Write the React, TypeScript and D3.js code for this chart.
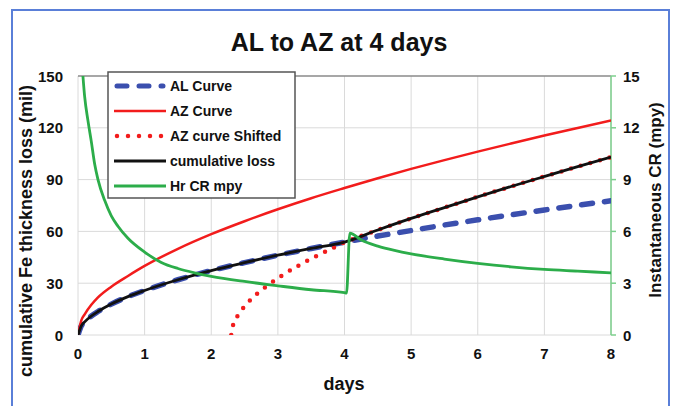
import React from 'react';
import * as d3 from 'd3';

const TITLE = 'AL to AZ at 4 days';
const X_LABEL = 'days';
const Y_LEFT_LABEL = 'cumulative Fe thickness loss (mil)';
const Y_RIGHT_LABEL = 'Instantaneous CR (mpy)';

const X_TICKS = [0, 1, 2, 3, 4, 5, 6, 7, 8];
const LEFT_TICKS = [0, 30, 60, 90, 120, 150];
const RIGHT_TICKS = [0, 3, 6, 9, 12, 15];

const alDays = [0, 0.05, 0.1, 0.2, 0.3, 0.5, 0.75, 1, 1.5, 2, 2.5, 3, 3.5, 4, 4.5, 5, 5.5, 6, 6.5, 7, 7.5, 8];
const alLoss = [0, 5.3, 7.6, 11.0, 13.6, 17.9, 22.2, 25.8, 32.0, 37.3, 41.9, 46.2, 50.1, 53.8, 57.3, 60.5, 63.7, 66.7, 69.6, 72.4, 75.1, 77.7];

const azDays = [0, 0.05, 0.1, 0.2, 0.3, 0.5, 0.75, 1, 1.5, 2, 2.5, 3, 3.5, 4, 4.5, 5, 5.5, 6, 6.5, 7, 7.5, 8];
const azLoss = [0, 8.5, 12, 17.5, 21.8, 28, 34.2, 40, 49.9, 58.4, 65.9, 72.8, 79.2, 85.1, 90.8, 96.2, 101.3, 106.2, 110.9, 115.5, 119.9, 124.2];

const shiftDays = [2.3, 2.32, 2.35, 2.4, 2.5, 2.6, 2.8, 3.0, 3.3, 3.5, 3.8, 4, 4.5, 5, 5.5, 6, 6.5, 7, 7.5, 8];
const shiftLoss = [0, 4.7, 7.8, 11.4, 16.6, 20.8, 27.4, 32.9, 40, 44.2, 49.9, 53.6, 60.8, 67.5, 73.8, 80.0, 86.0, 91.8, 97.5, 103.0];

const cumDays = [0, 0.05, 0.1, 0.2, 0.3, 0.5, 0.75, 1, 1.5, 2, 2.5, 3, 3.5, 4, 4.5, 5, 5.5, 6, 6.5, 7, 7.5, 8];
const cumLoss = [0, 5.3, 7.6, 11.0, 13.6, 17.9, 22.2, 25.8, 32.0, 37.3, 41.9, 46.2, 50.1, 53.8, 60.8, 67.5, 73.8, 80.0, 86.0, 91.8, 97.5, 103.0];

const crDays = [0.07, 0.1, 0.15, 0.2, 0.25, 0.3, 0.4, 0.5, 0.6, 0.75, 1, 1.25, 1.5, 1.75, 2, 2.5, 3, 3.5, 4, 4.03, 4.08, 4.25, 4.5, 4.75, 5, 5.5, 6, 6.5, 7, 7.5, 8];
const crMpy = [15.2, 13.8, 12.4, 11.2, 9.9, 9.0, 7.8, 6.9, 6.3, 5.6, 4.8, 4.2, 3.85, 3.6, 3.4, 3.1, 2.85, 2.62, 2.45, 2.42, 5.9, 5.5, 5.15, 4.9, 4.7, 4.4, 4.15, 3.95, 3.8, 3.7, 3.6];

const LEGEND = ['AL Curve', 'AZ Curve', 'AZ curve Shifted', 'cumulative loss', 'Hr CR mpy'];

const W = 678;
const H = 406;
const PL = 78, PR = 611, PT = 76, PB = 335;

const BLUE = '#3b4fae';
const RED = '#f21c1c';
const BLACK = '#111111';
const GREEN = '#2cad4a';
const FONT = '"Liberation Sans", Arial, sans-serif';

export default function App() {
  const x = d3.scaleLinear().domain([0, 8]).range([PL, PR]);
  const yL = d3.scaleLinear().domain([0, 150]).range([PB, PT]);
  const yR = d3.scaleLinear().domain([0, 15]).range([PB, PT]);

  const mk = (xs: number[], ys: number[], sc: d3.ScaleLinear<number, number>) => {
    const pts: [number, number][] = xs.map((d, i) => [d, ys[i]]);
    return d3.line<[number, number]>().x(p => x(p[0])).y(p => sc(p[1])).curve(d3.curveMonotoneX)(pts) || '';
  };

  const alPath = mk(alDays, alLoss, yL);
  const azPath = mk(azDays, azLoss, yL);
  const shiftPath = mk(shiftDays, shiftLoss, yL);
  const cumPath = mk(cumDays, cumLoss, yL);
  const crPath = mk(crDays, crMpy, yR);

  const legendStyles = [
    { stroke: BLUE, width: 5, dash: '10 12', cap: 'round' },
    { stroke: RED, width: 2.5, dash: '', cap: 'butt' },
    { stroke: RED, width: 4.5, dash: '0 11', cap: 'round' },
    { stroke: BLACK, width: 3, dash: '', cap: 'butt' },
    { stroke: GREEN, width: 3, dash: '', cap: 'butt' },
  ];
  const legY = d3.scaleLinear().domain([0, 4]).range([86, 186]);

  return (
    <svg width={W} height={H} style={{ position: 'absolute', left: 0, top: 0, background: '#fff' }} fontFamily={FONT}>
      <defs>
        <clipPath id="plotclip">
          <rect x={PL} y={PT} width={PR - PL} height={PB - PT} />
        </clipPath>
      </defs>
      <rect x={0} y={0} width={W} height={H} fill="#fff" />
      <rect x={12} y={10} width={657} height={410} fill="#fff" stroke="#5a7fd8" strokeWidth={2} />

      <text x={339} y={51} textAnchor="middle" fontSize={25} fontWeight="bold" fill="#111">{TITLE}</text>

      {/* grid */}
      {X_TICKS.map(t => (
        <line key={'gx' + t} x1={x(t)} x2={x(t)} y1={PT} y2={PB} stroke="#dadada" strokeWidth={1} />
      ))}
      {LEFT_TICKS.map(t => (
        <line key={'gy' + t} x1={PL} x2={PR} y1={yL(t)} y2={yL(t)} stroke={t === 150 ? '#8a8a8a' : '#dadada'} strokeWidth={t === 150 ? 1.5 : 1} />
      ))}

      {/* right axis */}
      <line x1={PR} x2={PR} y1={PT} y2={PB} stroke="#7ccf8c" strokeWidth={1.5} />
      {RIGHT_TICKS.map(t => (
        <line key={'rt' + t} x1={PR} x2={PR + 5} y1={yR(t)} y2={yR(t)} stroke="#7ccf8c" strokeWidth={1.5} />
      ))}

      {/* series */}
      <g clipPath="url(#plotclip)" fill="none" strokeLinejoin="round">
        <path d={alPath} stroke={BLUE} strokeWidth={5.5} strokeDasharray="11 12" strokeLinecap="round" />
        <path d={azPath} stroke={RED} strokeWidth={2.5} />
        <path d={shiftPath} stroke={RED} strokeWidth={4.5} strokeDasharray="0 10" strokeLinecap="round" />
        <path d={cumPath} stroke={BLACK} strokeWidth={2.8} />
        <path d={crPath} stroke={GREEN} strokeWidth={2.8} />
      </g>

      {/* tick labels */}
      {LEFT_TICKS.map(t => (
        <text key={'lt' + t} x={63} y={yL(t) + 5.5} textAnchor="end" fontSize={15} fontWeight="bold" fill="#111">{t}</text>
      ))}
      {RIGHT_TICKS.map(t => (
        <text key={'rl' + t} x={623} y={yR(t) + 5.5} textAnchor="start" fontSize={15} fontWeight="bold" fill="#111">{t}</text>
      ))}
      {X_TICKS.map(t => (
        <text key={'xl' + t} x={x(t)} y={359} textAnchor="middle" fontSize={15} fontWeight="bold" fill="#111">{t}</text>
      ))}

      <text x={344} y={390} textAnchor="middle" fontSize={18} fontWeight="bold" fill="#111">{X_LABEL}</text>
      <text transform="translate(32,231) rotate(-90)" textAnchor="middle" fontSize={18} fontWeight="bold" fill="#111">{Y_LEFT_LABEL}</text>
      <text transform="translate(661,200) rotate(-90)" textAnchor="middle" fontSize={17} fontWeight="bold" fill="#111">{Y_RIGHT_LABEL}</text>

      {/* legend */}
      <rect x={108} y={72} width={187} height={126} fill="#fff" stroke="#555" strokeWidth={1.5} />
      {LEGEND.map((name, i) => {
        const s = legendStyles[i];
        const yy = legY(i);
        return (
          <g key={name}>
            <line x1={s.cap === 'round' ? 117 : 114} x2={s.cap === 'round' ? 163 : 166} y1={yy} y2={yy} stroke={s.stroke} strokeWidth={s.width} strokeDasharray={s.dash || undefined} strokeLinecap={s.cap as any} />
            <text x={170} y={yy + 5} fontSize={14} fontWeight="bold" fill="#111">{name}</text>
          </g>
        );
      })}
    </svg>
  );
}
